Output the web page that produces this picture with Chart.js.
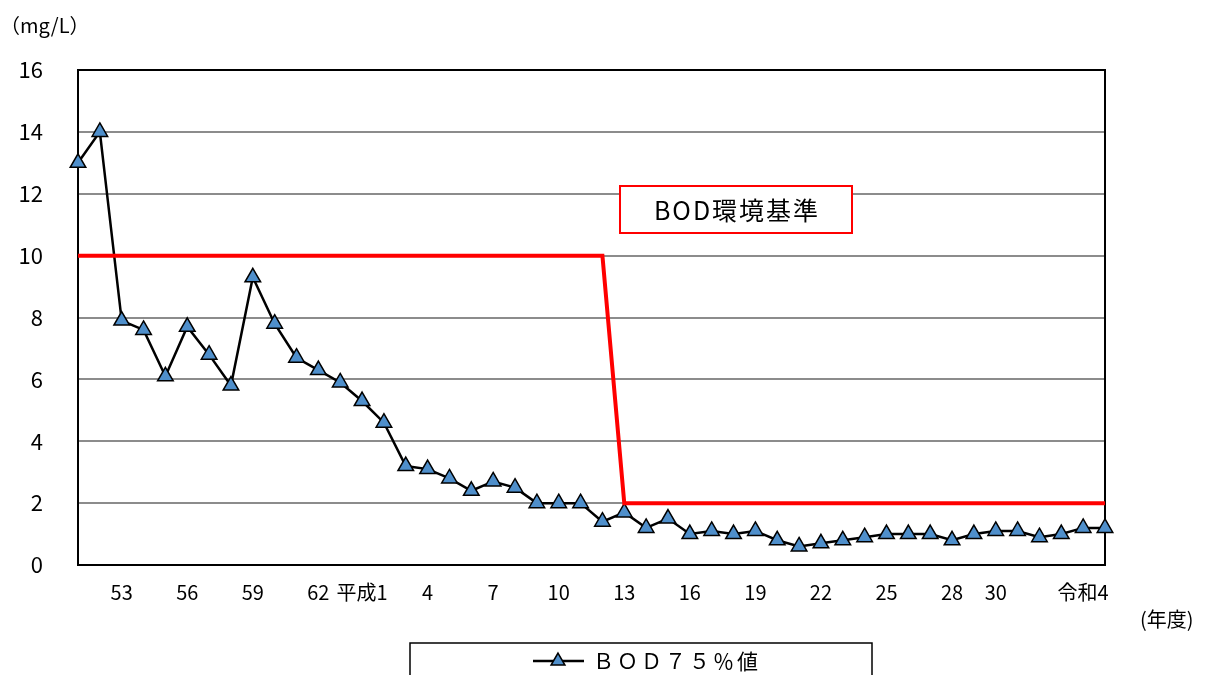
<!DOCTYPE html>
<html>
<head>
<meta charset="utf-8">
<script src="https://cdn.jsdelivr.net/npm/chart.js@4.4.1/dist/chart.umd.min.js"></script>
<style>
  html, body { margin: 0; padding: 0; background: #fff; }
</style>
</head>
<body>
<canvas id="bodChart" width="1208" height="675"></canvas>
<script>
// 年度 (昭和51 〜 令和5), only some are labelled on the axis
const tickLabels = [
  '', '', '53', '', '', '56', '', '', '59', '', '', '62', '', '平成1',
  '', '', '4', '', '', '7', '', '', '10', '', '', '13', '', '', '16',
  '', '', '19', '', '', '22', '', '', '25', '', '', '28', '', '30',
  '', '', '', '令和4', ''
];

// BOD 75%値 (mg/L)
const bod75 = [
  13.0, 14.0, 7.9, 7.6, 6.1, 7.7, 6.8, 5.8, 9.3, 7.8, 6.7, 6.3, 5.9,
  5.3, 4.6, 3.2, 3.1, 2.8, 2.4, 2.7, 2.5, 2.0, 2.0, 2.0, 1.4, 1.7,
  1.2, 1.5, 1.0, 1.1, 1.0, 1.1, 0.8, 0.6, 0.7, 0.8, 0.9, 1.0, 1.0,
  1.0, 0.8, 1.0, 1.1, 1.1, 0.9, 1.0, 1.2, 1.2
];

// BOD環境基準 (mg/L)
const bodStandard = [
  10, 10, 10, 10, 10, 10, 10, 10, 10, 10, 10, 10, 10, 10, 10, 10, 10,
  10, 10, 10, 10, 10, 10, 10, 10, 2, 2, 2, 2, 2, 2, 2, 2, 2, 2, 2, 2,
  2, 2, 2, 2, 2, 2, 2, 2, 2, 2, 2
];

const yMin = 0, yMax = 16, yStep = 2;

const jpFont = '"Noto Sans CJK JP", "Noto Sans", sans-serif';
const markerBlue = '#4F8FCB';

// frame, unit labels, the standard's caption box and the legend box
const decorations = {
  id: 'decorations',
  beforeDatasetsDraw(chart) {
    const { ctx, chartArea: a } = chart;
    ctx.save();
    ctx.strokeStyle = '#000';
    ctx.lineWidth = 2;
    ctx.strokeRect(a.left, a.top, a.right - a.left, a.bottom - a.top);
    ctx.restore();
  },
  afterDraw(chart) {
    const { ctx } = chart;
    ctx.save();
    ctx.fillStyle = '#000';
    ctx.font = '20px ' + jpFont;
    ctx.textBaseline = 'middle';
    ctx.textAlign = 'left';
    ctx.fillText('（mg/L）', 0, 25);
    ctx.fillText('(年度)', 1140, 619);

    // BOD環境基準 caption
    ctx.fillStyle = '#fff';
    ctx.fillRect(620, 186, 232, 47);
    ctx.strokeStyle = '#ff0000';
    ctx.lineWidth = 2;
    ctx.strokeRect(620, 186, 232, 47);
    ctx.fillStyle = '#000';
    ctx.font = '25px ' + jpFont;
    ctx.letterSpacing = '2px';
    ctx.textAlign = 'center';
    ctx.fillText('BOD環境基準', 737, 210);
    ctx.letterSpacing = '0px';

    // legend
    ctx.strokeStyle = '#000';
    ctx.lineWidth = 1.5;
    ctx.strokeRect(410, 643, 462, 45);
    ctx.lineWidth = 2.5;
    ctx.beginPath();
    ctx.moveTo(533, 661);
    ctx.lineTo(584, 661);
    ctx.stroke();
    const r = 8;
    ctx.beginPath();
    ctx.moveTo(558, 661 - r);
    ctx.lineTo(558 + r * 0.866, 661 + r / 2);
    ctx.lineTo(558 - r * 0.866, 661 + r / 2);
    ctx.closePath();
    ctx.fillStyle = markerBlue;
    ctx.fill();
    ctx.lineWidth = 1.5;
    ctx.stroke();
    ctx.fillStyle = '#000';
    ctx.font = '21px ' + jpFont;
    ctx.letterSpacing = '3px';
    ctx.textAlign = 'left';
    ctx.fillText('ＢＯＤ７５％値', 593, 661);
    ctx.restore();
  }
};

new Chart(document.getElementById('bodChart'), {
  type: 'line',
  data: {
    labels: tickLabels,
    datasets: [
      {
        label: 'BOD環境基準',
        data: bodStandard,
        borderColor: '#ff0000',
        borderWidth: 4,
        pointRadius: 0,
        tension: 0,
        clip: false,
        order: 0
      },
      {
        label: 'ＢＯＤ７５％値',
        data: bod75,
        borderColor: '#000',
        borderWidth: 2.5,
        pointStyle: 'triangle',
        pointRadius: 9,
        pointBackgroundColor: markerBlue,
        pointBorderColor: '#000',
        pointBorderWidth: 1.5,
        tension: 0,
        clip: false,
        order: 1
      }
    ]
  },
  options: {
    responsive: false,
    animation: false,
    devicePixelRatio: 1,
    layout: { padding: { left: 0, right: 103, top: 70, bottom: 0 } },
    plugins: {
      legend: { display: false },
      tooltip: { enabled: false }
    },
    scales: {
      x: {
        type: 'category',
        offset: false,
        grid: { display: false, drawTicks: false },
        border: { display: true, color: '#000', width: 2 },
        ticks: {
          autoSkip: false,
          maxRotation: 0,
          color: '#000',
          padding: 15,
          font: { size: 20, family: jpFont }
        },
        afterFit(scale) { scale.height = 110; }
      },
      y: {
        min: yMin,
        max: yMax,
        grid: { color: '#8c8c8c', lineWidth: 2, drawTicks: false },
        border: { display: true, color: '#000', width: 2 },
        ticks: {
          stepSize: yStep,
          color: '#000',
          padding: 35,
          font: { size: 22, family: jpFont }
        },
        afterFit(scale) { scale.width = 78; }
      }
    }
  },
  plugins: [decorations]
});
</script>
</body>
</html>
